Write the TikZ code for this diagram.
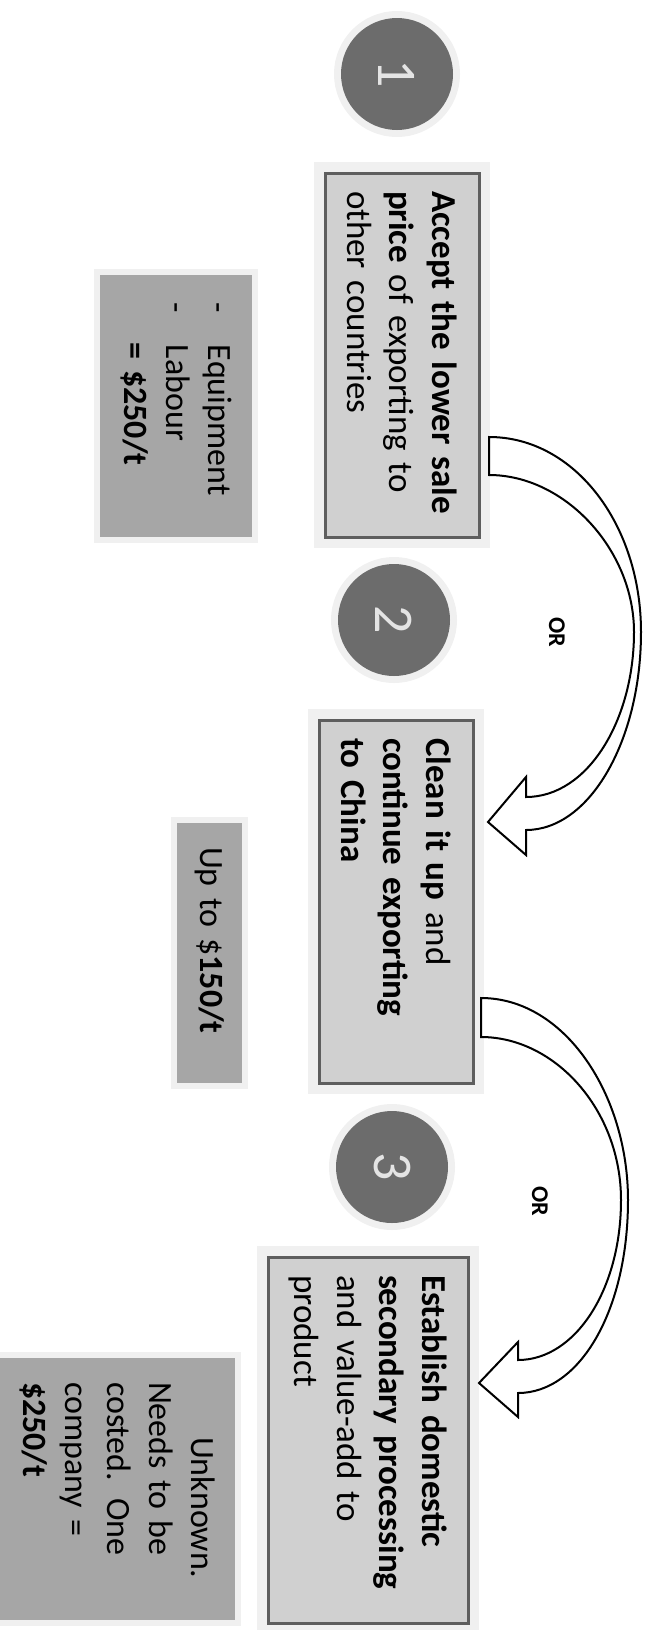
\documentclass[tikz,border=0pt]{standalone}
\usepackage{fontspec}
\setmainfont{Carlito}
\definecolor{boxgray}{HTML}{D0D0D0}
\definecolor{edgegray}{HTML}{5E5E5E}
\definecolor{labgray}{HTML}{A6A6A6}
\definecolor{dotgray}{HTML}{6C6C6C}
\definecolor{digitgray}{HTML}{E4E4E4}
\definecolor{halogray}{HTML}{F0F0F0}
\begin{document}
\begin{tikzpicture}
        [
            x=1pt, y=-1pt,
            optbox/.style={rotate=-90, draw=edgegray, line width=3pt, fill=boxgray,
                preaction={draw=halogray, line width=22pt},
                inner xsep=18pt, inner ysep=0pt, align=left,
                font=\fontsize{35}{42.5}\selectfont},
            costbox/.style={rotate=-90, fill=labgray,
                preaction={draw=halogray, line width=12pt},
                inner xsep=24pt, inner ysep=0pt, align=left,
                font=\fontsize{34}{42}\selectfont},
            numdot/.style={circle, rotate=-90, fill=dotgray, text=digitgray,
                preaction={draw=halogray, line width=14pt},
                minimum size=112pt, inner sep=0pt, font=\fontsize{56}{56}\selectfont},
            orlabel/.style={rotate=-90, font=\bfseries\fontsize{24}{24}\selectfont},
            bendarrow/.style={draw=black, line width=2pt, fill=white, line join=miter}
        ]
        \useasboundingbox (0,0) rectangle (652,1630);

        % numbered options
        \node[numdot] (one) at (397, 74) {1};
        \node[numdot] (two) at (394, 620) {2};
        \node[numdot] (three) at (392, 1167) {3};

        \node[optbox, minimum width=364pt, minimum height=154pt, text width=328pt] (accept) at (402, 355)
            {\textbf{Accept the lower sale}\\ \textbf{price} of exporting to\\ other countries};
        \node[optbox, minimum width=363pt, minimum height=154pt, text width=327pt] (clean) at (396, 901.5)
            {\textbf{Clean it up} and\\ \textbf{continue exporting}\\ \textbf{to China}};
        \node[optbox, minimum width=366pt, minimum height=200pt, text width=330pt] (domestic) at (368, 1440)
            {\textbf{Establish domestic}\\ \textbf{secondary processing}\\ and value-add to\\ product};

        % costs
        \node[costbox, inner xsep=27pt, minimum width=262pt, minimum height=152pt, text width=208pt] (costone) at (176, 406)
            {\makebox[43pt][l]{-}Equipment\\ \makebox[43pt][l]{-}Labour\\ \hspace*{40pt}\textbf{= \$250/t}};
        \node[costbox, minimum width=260pt, minimum height=65pt, text width=212pt] (costtwo) at (209.5, 953)
            {Up to \$\textbf{150/t}};
        \node[costbox, minimum width=262pt, minimum height=235pt, text width=214pt] (costthree) at (117.5, 1489)
            {\hspace*{55pt}Unknown.\\ Needs to be\\ costed. One\\ company =\\ \textbf{\$250/t}};

        \node[orlabel] (orone) at (557, 632) {OR};
        \node[orlabel] (ortwo) at (540, 1201) {OR};

        % curved arrows
        \coordinate (tailAa) at (489, 437);
        \coordinate (tailAb) at (489, 475);
        \coordinate (neckAa) at (526, 797);
        \coordinate (neckAb) at (526, 830);
        \coordinate (barbAa) at (526, 777);
        \coordinate (barbAb) at (526, 855);
        \coordinate (tipA) at (488, 822);
        \draw[bendarrow] (tailAa) .. controls (575, 437) and (641, 525) .. (641, 632)
            .. controls (641, 740) and (590, 830) .. (neckAb) -- (barbAb) -- (tipA) -- (barbAa) -- (neckAa)
            .. controls (588, 797) and (634, 720) .. (634, 632)
            .. controls (634, 550) and (565, 475) .. (tailAb) -- cycle;

        \coordinate (tailBa) at (481, 998);
        \coordinate (tailBb) at (481, 1037);
        \coordinate (neckBa) at (518, 1360);
        \coordinate (neckBb) at (518, 1393);
        \coordinate (barbBa) at (518, 1342);
        \coordinate (barbBb) at (518, 1417);
        \coordinate (tipB) at (479, 1383);
        \draw[bendarrow] (tailBa) .. controls (565, 998) and (628, 1095) .. (628, 1200)
            .. controls (628, 1310) and (580, 1393) .. (neckBb) -- (barbBb) -- (tipB) -- (barbBa) -- (neckBa)
            .. controls (575, 1360) and (621, 1290) .. (621, 1200)
            .. controls (621, 1110) and (555, 1037) .. (tailBb) -- cycle;
    \end{tikzpicture}
\end{document}
